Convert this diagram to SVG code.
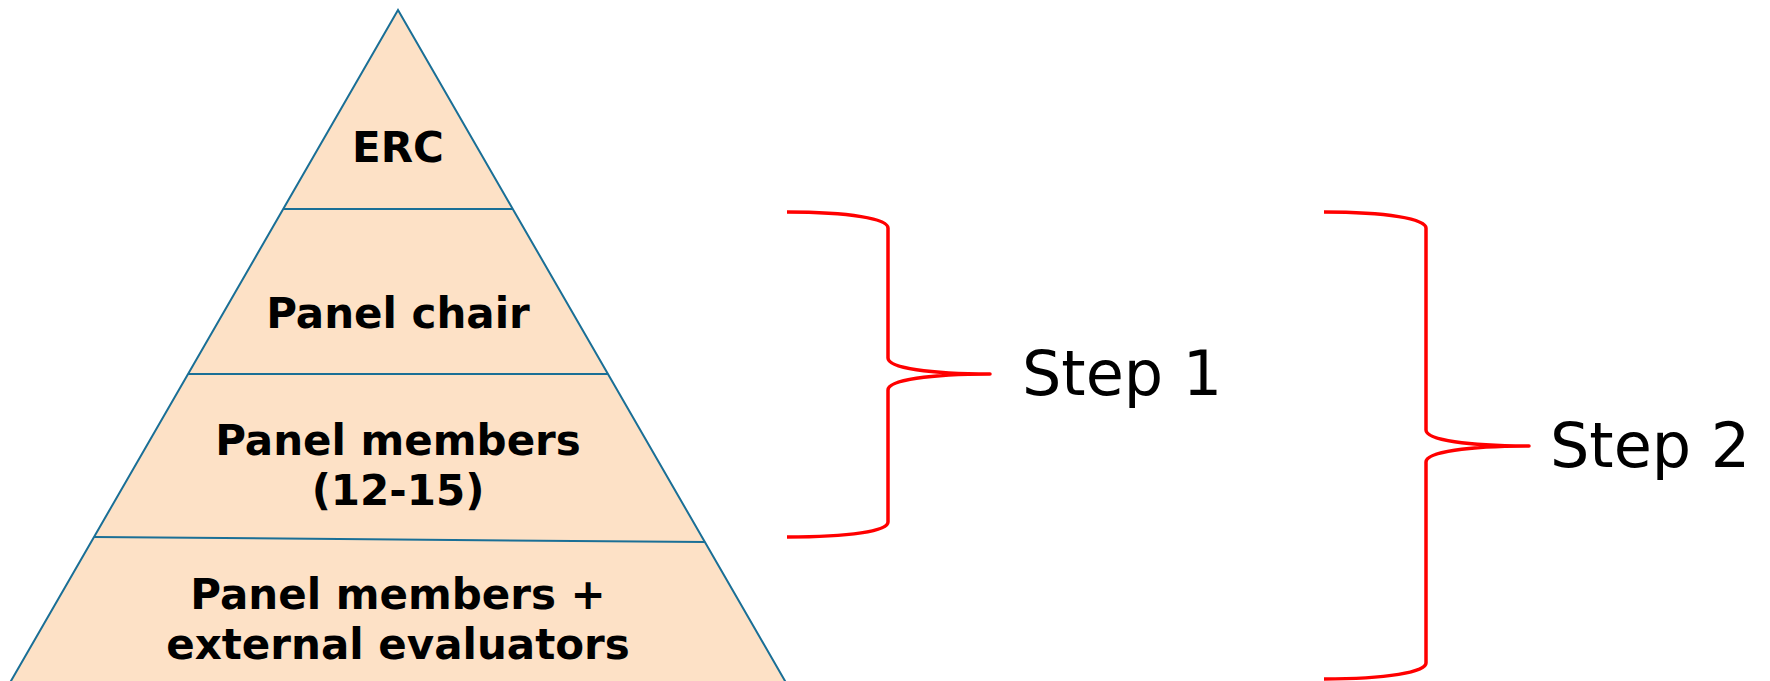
<svg xmlns="http://www.w3.org/2000/svg" width="1770" height="681" viewBox="0 0 1770 681">
<style>
.lvl{fill:#FDE1C6;stroke:none}
.edge{fill:none;stroke:#1A6F96;stroke-width:2}
.lbl{font-family:"DejaVu Sans",Verdana,sans-serif;font-weight:bold;font-size:42px;fill:#000;text-anchor:middle}
.brace{fill:none;stroke:#FF0000;stroke-width:3.5;stroke-linejoin:round}
.step{font-family:"DejaVu Sans",Verdana,sans-serif;font-size:62px;fill:#000}
</style>
<rect width="1770" height="681" fill="#fff"/>
<g id="pyramid">
<polygon class="lvl" points="398,10 796,700 0,700"/>
<polygon class="edge" points="398,10 796,700 0,700"/>
</g>
<g id="level-erc">
<text class="lbl" x="398" y="162">ERC</text>
</g>
<g id="level-chair">
<line class="edge" x1="283" y1="209" x2="513" y2="209"/>
<text class="lbl" x="398" y="328">Panel chair</text>
</g>
<g id="level-members">
<line class="edge" x1="188" y1="374" x2="608" y2="374"/>
<text class="lbl" x="398" y="455">Panel members</text>
<text class="lbl" x="398" y="505">(12-15)</text>
</g>
<g id="level-external">
<line class="edge" x1="94" y1="537" x2="705" y2="542"/>
<text class="lbl" x="398" y="609">Panel members +</text>
<text class="lbl" x="398" y="659">external evaluators</text>
</g>
<g id="connectors">
<path class="brace" d="M787,212 C850,212 888,219 888,228 L888,358 C888,368 930,374 990,374 C930,374 888,380 888,390 L888,522 C888,531 850,537 787,537"/>
<path class="brace" d="M1324,212 C1387,212 1426,219 1426,228 L1426,430 C1426,440 1468,446 1529,446 C1468,446 1426,452 1426,462 L1426,663 C1426,672 1387,679 1324,679"/>
</g>
<g id="step1">
<text class="step" x="1022" y="395">Step 1</text>
</g>
<g id="step2">
<text class="step" x="1550" y="467">Step 2</text>
</g>
</svg>
